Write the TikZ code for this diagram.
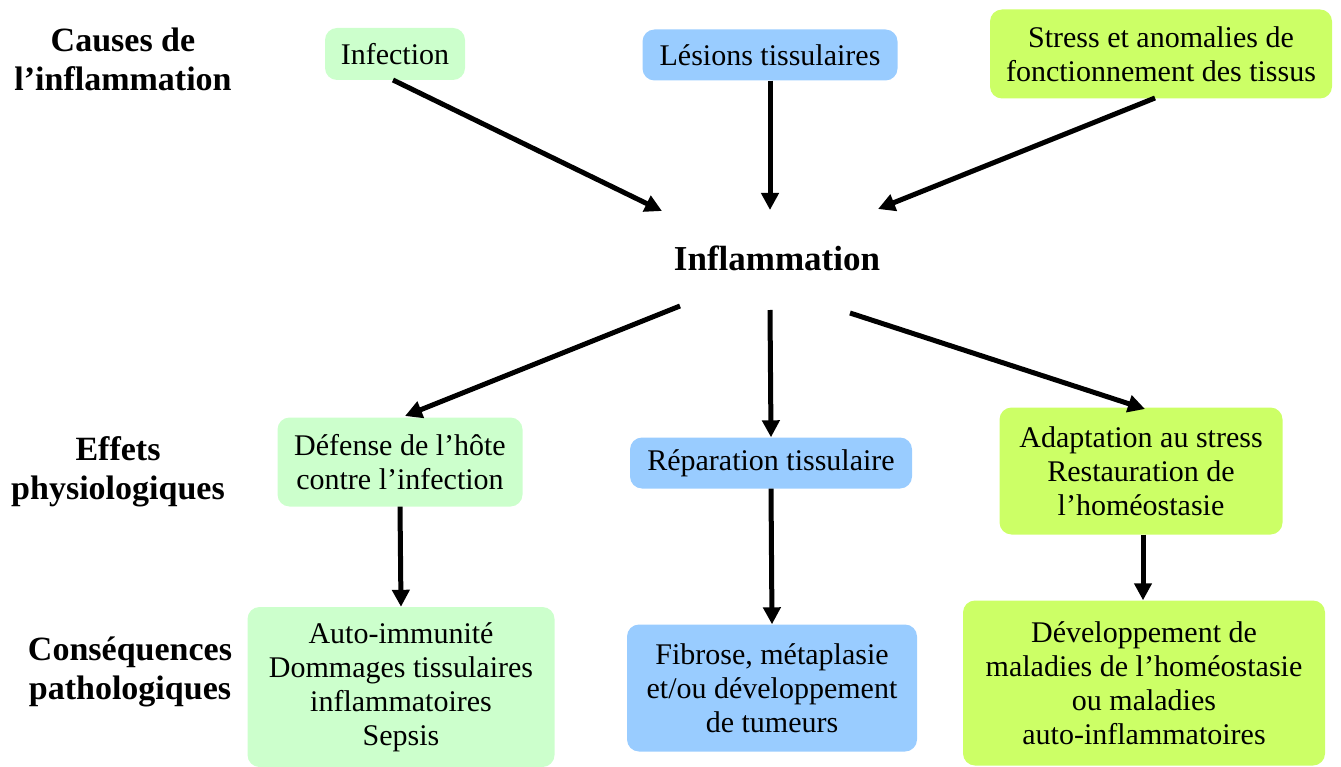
\documentclass[tikz,border=0pt]{standalone}
\usepackage{fontspec}
\setmainfont{Liberation Serif}
\usetikzlibrary{arrows.meta}
\definecolor{cgreen}{HTML}{CCFFCC}
\definecolor{cblue}{HTML}{99CCFF}
\definecolor{cyell}{HTML}{CCFF66}
\begin{document}
\begin{tikzpicture}[x=1pt,y=-1pt,
  box/.style={rounded corners=12pt, inner sep=0pt, align=center, font=\fontsize{30}{34}\selectfont},
  lab/.style={align=center, font=\fontsize{34}{39}\selectfont\bfseries},
  arr/.style={line width=5pt, -{Triangle[length=17pt,width=17pt]}}]
\useasboundingbox (0,0) rectangle (1341,767);
% labels
\node[lab] (lcause) at (123,59) {Causes de\\l’inflammation};
\node[lab] (leff) at (118,472) {Effets\\physiologiques};
\node[lab] (lcons) at (130,672) {Conséquences\\pathologiques};
% causes
\node[box, fill=cgreen, minimum width=140pt, minimum height=52pt] (inf) at (395,54) {Infection};
\node[box, fill=cblue, minimum width=255pt, minimum height=51pt] (les) at (770,55) {Lésions tissulaires};
\node[box, fill=cyell, minimum width=342pt, minimum height=89pt] (str) at (1161,54) {Stress et anomalies de\\fonctionnement des tissus};
% center
\node[font=\fontsize{35}{39}\selectfont\bfseries] (infl) at (777,258) {Inflammation};
% effects
\node[box, fill=cgreen, minimum width=245pt, minimum height=89pt] (def) at (400,462) {Défense de l’hôte\\contre l’infection};
\node[box, fill=cblue, minimum width=282pt, minimum height=51pt] (rep) at (771,463) {Réparation tissulaire};
\node[box, fill=cyell, minimum width=283pt, minimum height=127pt] (ada) at (1141,471) {Adaptation au stress\\Restauration de\\l’homéostasie};
% consequences
\node[box, fill=cgreen, minimum width=307pt, minimum height=160pt] (aut) at (401,687) {Auto-immunité\\Dommages tissulaires\\inflammatoires\\Sepsis};
\node[box, fill=cblue, minimum width=290pt, minimum height=127pt] (fib) at (772,688) {Fibrose, métaplasie\\et/ou développement\\de tumeurs};
\node[box, fill=cyell, minimum width=362pt, minimum height=165pt] (dev) at (1144,683) {Développement de\\maladies de l’homéostasie\\ou maladies\\auto-inflammatoires};
% arrow ends
\coordinate (a1s) at (393,80);
\coordinate (a1e) at (662,211);
\coordinate (a2e) at (770,210);
\coordinate (a3s) at (1155,98);
\coordinate (a3e) at (878,209);
\coordinate (b1s) at (680,306);
\coordinate (b1e) at (405,416);
\coordinate (b2s) at (770,310);
\coordinate (b3s) at (850,313);
\coordinate (b3e) at (1145,409);
\draw[arr] (a1s) -- (a1e);
\draw[arr] (les.south) -- (a2e);
\draw[arr] (a3s) -- (a3e);
\draw[arr] (b1s) -- (b1e);
\draw[arr] (b2s) -- (rep.north);
\draw[arr] (b3s) -- (b3e);
\draw[arr] (def.south) -- (aut.north);
\draw[arr] (rep.south) -- (fib.north);
\draw[arr] ([xshift=2pt]ada.south) -- ([xshift=-1pt]dev.north);
\end{tikzpicture}
\end{document}
